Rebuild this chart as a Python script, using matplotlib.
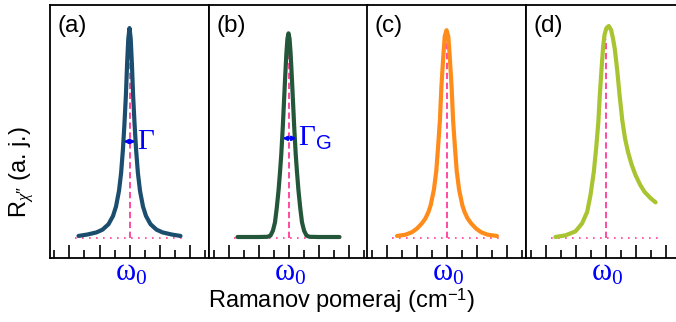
import matplotlib
matplotlib.use('Agg')
from matplotlib import pyplot as plt

plt.rcParams['font.family'] = ['Liberation Sans', 'DejaVu Sans']
plt.rcParams['mathtext.fontset'] = 'custom'
plt.rcParams['mathtext.rm'] = 'Liberation Serif'
plt.rcParams['mathtext.it'] = 'Liberation Serif:italic'
plt.rcParams['mathtext.sf'] = 'Liberation Sans'

# shift from omega_0 (tick units) and intensity (a. u.)
# (a) Lorentz
x_a = [-1.7, -1.4, -1.1, -0.9, -0.7, -0.55, -0.45, -0.35, -0.28, -0.22, -0.17,
       -0.12, -0.08, -0.04, 0.0, 0.04, 0.08, 0.12, 0.17, 0.22, 0.28, 0.35,
       0.45, 0.55, 0.7, 0.9, 1.1, 1.4, 1.7]
y_a = [0.01, 0.017, 0.027, 0.04, 0.066, 0.105, 0.15, 0.225, 0.31, 0.42, 0.54,
       0.68, 0.83, 0.95, 1.0, 0.95, 0.83, 0.68, 0.54, 0.42, 0.31, 0.225,
       0.15, 0.105, 0.066, 0.04, 0.027, 0.017, 0.01]

# (b) Gauss
x_b = [-1.7, -1.0, -0.7, -0.6, -0.52, -0.45, -0.39, -0.33, -0.28, -0.24,
       -0.19, -0.15, -0.11, -0.07, -0.035, 0.0, 0.035, 0.07, 0.11, 0.15, 0.19,
       0.24, 0.28, 0.33, 0.39, 0.45, 0.52, 0.6, 0.7, 1.0, 1.7]
y_b = [0.005, 0.005, 0.006, 0.012, 0.035, 0.075, 0.145, 0.23, 0.32, 0.40,
       0.53, 0.65, 0.77, 0.88, 0.95, 0.975, 0.95, 0.88, 0.77, 0.65, 0.53,
       0.40, 0.32, 0.23, 0.145, 0.075, 0.035, 0.012, 0.006, 0.005, 0.005]

# (c) Voigt
x_c = [-1.65, -1.37, -1.15, -0.98, -0.82, -0.7, -0.6, -0.53, -0.42, -0.34,
       -0.28, -0.22, -0.17, -0.11, -0.06, 0.0, 0.06, 0.11, 0.17, 0.22, 0.28,
       0.34, 0.42, 0.53, 0.6, 0.7, 0.82, 0.98, 1.15, 1.37, 1.68]
y_c = [0.01, 0.016, 0.028, 0.046, 0.07, 0.094, 0.125, 0.155, 0.23, 0.32,
       0.435, 0.56, 0.72, 0.86, 0.96, 0.99, 0.96, 0.86, 0.72, 0.56, 0.435,
       0.32, 0.23, 0.155, 0.125, 0.094, 0.07, 0.046, 0.028, 0.016, 0.01]

# (d) asymmetric (Fano)
x_d = [-1.67, -1.33, -1.0, -0.78, -0.61, -0.5, -0.39, -0.31, -0.24, -0.19,
       -0.13, -0.08, -0.03, 0.03, 0.11, 0.19, 0.25, 0.31, 0.39, 0.47, 0.56,
       0.65, 0.75, 0.87, 1.0, 1.15, 1.3, 1.5, 1.67]
y_d = [0.005, 0.013, 0.032, 0.07, 0.125, 0.205, 0.315, 0.43, 0.55, 0.68,
       0.81, 0.91, 0.97, 1.0, 1.01, 0.99, 0.95, 0.9, 0.8, 0.68, 0.56,
       0.475, 0.41, 0.35, 0.3, 0.255, 0.22, 0.19, 0.17]

series_x = [x_a, x_b, x_c, x_d]
series_y = [y_a, y_b, y_c, y_d]
panel_tags = ['(a)', '(b)', '(c)', '(d)']
colors = ['#1b4d6e', '#24573a', '#ff8c1a', '#a8c430']
width_labels = [r'$\Gamma$', r'$\Gamma_{\mathsf{G}}$', None, None]
width_arrow = [(-0.2, 0.2, 0.46), (-0.2, 0.27, 0.475), None, None]
peak_top = [1.0, 0.975, 0.99, 0.95]
pink = '#ff3d9a'

W, H = 676, 322
fig = plt.figure(figsize=(W / 100, H / 100), dpi=100)

left_px = [50, 209, 367, 526]
pw = 159
bottom_px, top_px = 258, 5

for i in range(4):
    ax = fig.add_axes([left_px[i] / W, (H - bottom_px) / H, pw / W,
                       (bottom_px - top_px) / H])
    ax.set_xlim(-2.65, 2.65)
    ax.set_ylim(-0.095, 1.11)

    ax.plot([-1.82, 1.76], [0, 0], color=pink, lw=1.2, ls=(0, (1, 3.2)))
    ax.plot([0, 0], [0, peak_top[i]], color=pink, lw=1.3, ls=(0, (3.5, 2)))
    ax.plot(series_x[i], series_y[i], color=colors[i], lw=3,
            solid_capstyle='round', solid_joinstyle='round')

    if width_arrow[i] is not None:
        x0, x1, yy = width_arrow[i]
        ax.annotate('', xy=(x1, yy), xytext=(x0, yy),
                    arrowprops=dict(arrowstyle='<|-|>', color='blue', lw=1.5,
                                    mutation_scale=6, shrinkA=0, shrinkB=0))
        ax.text(x1 + 0.04, yy, width_labels[i], color='blue', fontsize=21,
                va='center', ha='left')

    ax.text(0.045, 0.96, panel_tags[i], transform=ax.transAxes, fontsize=17.5,
            va='top', ha='left')
    ax.text(0.05, -0.088, r'$\mathrm{\omega}_{\mathrm{0}}$', color='blue',
            fontsize=22, ha='center', va='baseline',
            transform=ax.get_xaxis_transform())

    ax.set_xticks([-2, -1, 0, 1, 2])
    ax.set_xticks([-2.5, -1.5, -0.5, 0.5, 1.5, 2.5], minor=True)
    ax.set_xticklabels([])
    ax.set_yticks([])
    ax.tick_params(axis='x', which='major', direction='in', length=9.5,
                   width=1.2)
    ax.tick_params(axis='x', which='minor', direction='in', length=5.5,
                   width=1.2)
    for s in ax.spines.values():
        s.set_linewidth(1.3)

fig.text(22 / W, 1 - 172 / H, r"R$_{\chi\mathsf{″}}$ (a. j.)", rotation=90,
         fontsize=17, ha='center', va='center')
fig.text(342 / W, 1 - 301 / H, r'Ramanov pomeraj (cm$^{\mathsf{-1}}$)',
         fontsize=17, ha='center', va='center')

fig.savefig('out.png', dpi=100)
